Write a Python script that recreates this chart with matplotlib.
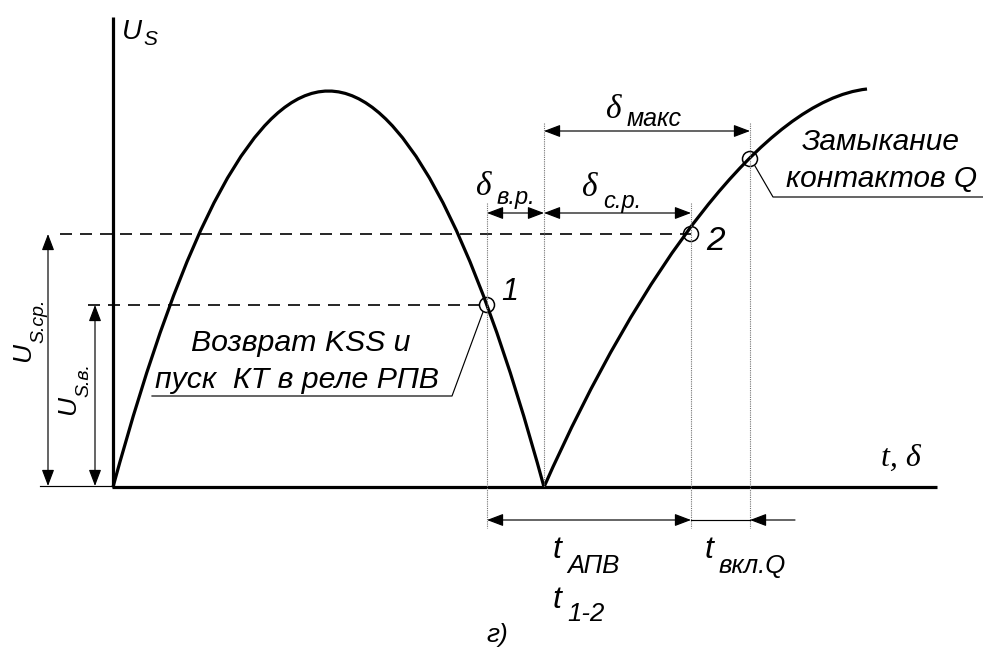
import matplotlib
matplotlib.use("Agg")
import matplotlib.pyplot as plt
from matplotlib.path import Path
from matplotlib.patches import PathPatch, Circle, FancyArrowPatch

# ---- diagram data (pixel-like diagram units, y downward) ----
x0, x_end = 113, 937          # axes origin / end of t axis
y_base, y_top = 487, 17       # baseline / top of U axis
hump1_x = [113, 328.5, 544]   # quadratic Bezier (start, control, end)
hump1_y = [487, -305, 487]
hump2_x = [544, 640, 765, 867]  # cubic Bezier
hump2_y = [487, 270, 100, 89]
pt1 = (487, 305)
pt2 = (691, 234)
ptQ = (750, 159)
x_zero = 544

SANS = ["Liberation Sans", "DejaVu Sans"]
SERIF = ["Liberation Serif", "DejaVu Serif"]

fig = plt.figure(figsize=(9.83, 6.5), dpi=100)
ax = fig.add_axes([0, 0, 1, 1])
ax.set_xlim(0, 983)
ax.set_ylim(650, 0)
ax.axis("off")

K = "black"
LW_MAIN = 2.3
LW_THIN = 0.85

# axes
ax.plot([x0, x0], [y_top, y_base], color=K, lw=LW_MAIN, solid_capstyle="butt")
ax.plot([x0 - 1, x_end], [y_base, y_base], color=K, lw=LW_MAIN, solid_capstyle="butt")
ax.plot([40, x0], [y_base - 1, y_base - 1], color=K, lw=LW_THIN)

# curve
p1 = Path(list(zip(hump1_x, hump1_y)), [Path.MOVETO, Path.CURVE3, Path.CURVE3])
p2 = Path(list(zip(hump2_x, hump2_y)), [Path.MOVETO, Path.CURVE4, Path.CURVE4, Path.CURVE4])
for p in (p1, p2):
    ax.add_patch(PathPatch(p, facecolor="none", edgecolor=K, lw=LW_MAIN, capstyle="butt", joinstyle="miter"))

# dashed levels
ax.plot([60, pt2[0]], [pt2[1], pt2[1]], color=K, lw=1.2, linestyle=(0, (7.2, 4.8)))
ax.plot([88, pt1[0]], [pt1[1], pt1[1]], color=K, lw=1.2, linestyle=(0, (7.2, 4.8)))

# dotted verticals
dot = dict(color="0.45", lw=0.8, linestyle=(0, (1, 1)))
ax.plot([pt1[0], pt1[0]], [203, 528], **dot)
ax.plot([x_zero, x_zero], [123, y_base], **dot)
ax.plot([pt2[0], pt2[0]], [203, 528], **dot)
ax.plot([ptQ[0], ptQ[0]], [123, 528], **dot)

# circles
for (cx, cy) in (pt1, pt2, ptQ):
    ax.add_patch(Circle((cx, cy), 7.5, facecolor="none", edgecolor=K, lw=1.1))


def arrow(a, b, style="<|-|>"):
    ax.add_patch(FancyArrowPatch(a, b, arrowstyle=f"{style},head_length=10,head_width=3.8",
                                 mutation_scale=1, shrinkA=0, shrinkB=0,
                                 color=K, lw=LW_THIN))


# vertical dimension arrows
arrow((48, pt2[1]), (48, y_base - 1))
arrow((95, pt1[1]), (95, y_base - 1))
# horizontal dimension arrows
arrow((x_zero, 131), (ptQ[0], 131))
arrow((pt1[0], 213), (x_zero, 213))
arrow((x_zero, 213), (pt2[0], 213))
arrow((pt1[0], 520), (pt2[0], 520))
ax.plot([pt2[0], ptQ[0]], [520, 520], color=K, lw=LW_THIN)
arrow((795, 520), (ptQ[0], 520), style="-|>")

# callout lines
ax.plot([152, 452, 483], [396, 396, 312], color=K, lw=LW_THIN)
ax.plot([755, 773, 983], [166, 197, 197], color=K, lw=LW_THIN)

# ---- texts ----
def T(x, y, s, size, fam=SANS, **kw):
    kw.setdefault("ha", "left")
    kw.setdefault("va", "baseline")
    ax.text(x, y, s, fontsize=size, family=fam, style="italic", color=K, **kw)

# U_S
T(122, 39, "U", 20)
T(143, 45, "S", 15)
# rotated U labels
T(30, 362, "U", 19, rotation=90, rotation_mode="anchor")
T(43, 343, "S.ср.", 14, rotation=90, rotation_mode="anchor")
T(75, 415, "U", 19, rotation=90, rotation_mode="anchor")
T(88, 397, "S.в.", 14, rotation=90, rotation_mode="anchor")

# t, delta
T(881, 466, "t, δ", 23, fam=SERIF)

# deltas
T(605, 118, "δ", 24, fam=SERIF)
T(627, 126, "макс", 18)
T(475, 195, "δ", 24, fam=SERIF)
T(497, 204, "в.р.", 17)
T(581, 196, "δ", 24, fam=SERIF)
T(603, 208, "с.р.", 17)

# point labels
T(501, 300, "1", 22)
T(706, 250, "2", 24)

# callouts
T(191, 351, "Возврат KSS и", 21.8)
T(155, 388, "пуск  КТ в реле РПВ", 21.8)
T(802, 150, "Замыкание", 21.5)
T(786, 187, "контактов Q", 21.5)

# times
T(553, 558, "t", 23)
T(567, 573, "АПВ", 18.5)
T(553, 608, "t", 23)
T(567, 621, "1-2", 18.5)
T(705, 558, "t", 23)
T(719, 573, "вкл.Q", 18.5)
T(486, 642, "г)", 19)

fig.savefig("out.png", dpi=100)
